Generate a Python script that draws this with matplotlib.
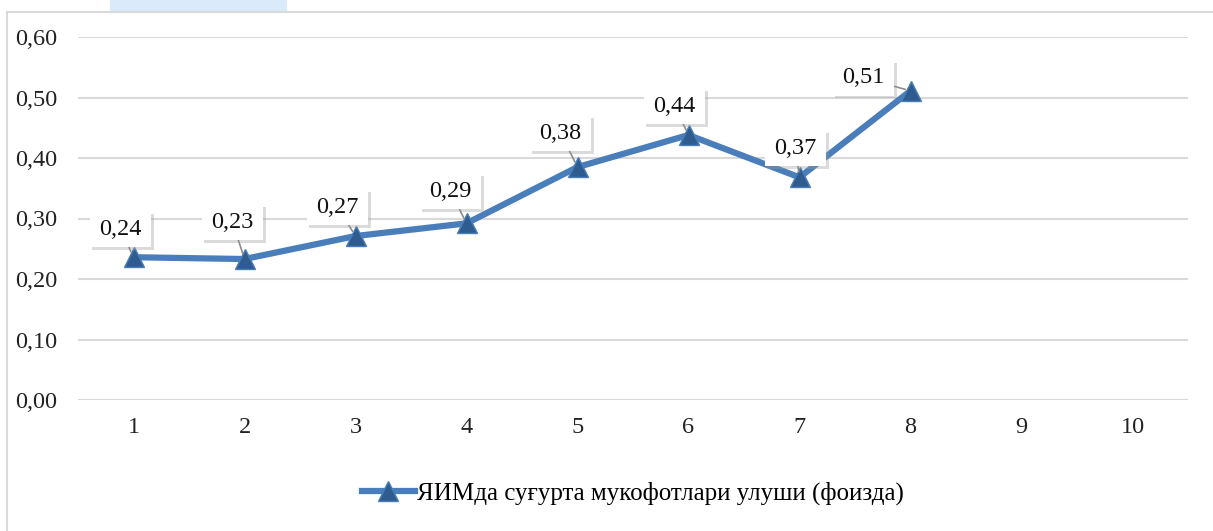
import matplotlib
matplotlib.use('Agg')
import matplotlib.pyplot as plt
import matplotlib.patheffects as pe
from matplotlib.patches import Rectangle
from matplotlib.lines import Line2D
from matplotlib.path import Path

# data
periods = [1, 2, 3, 4, 5, 6, 7, 8]
share = [0.236, 0.233, 0.271, 0.292, 0.385, 0.438, 0.368, 0.511]
value_labels = ['0,24', '0,23', '0,27', '0,29', '0,38', '0,44', '0,37', '0,51']
x_ticks = list(range(1, 11))
y_ticks = [0.0, 0.1, 0.2, 0.3, 0.4, 0.5, 0.6]
series_name = 'ЯИМда суғурта мукофотлари улуши (фоизда)'

# label offsets in pixels (dx, dy)
offsets = [(-13, 28), (-12, 37), (-18, 29), (-16, 32), (-17, 34), (-14, 29), (-4, 29), (-47, 13)]

plt.rcParams['font.family'] = ['Liberation Serif', 'DejaVu Serif']


def label_box(x0, y0, width, height, mutation_size):
    """Rectangular box, wider padding left/right than top/bottom."""
    hp = 0.4 * mutation_size
    vp = 0.3 * mutation_size
    x1, y1 = x0 - hp, y0 - vp
    x2, y2 = x0 + width + hp, y0 + height + vp
    return Path([(x1, y1), (x2, y1), (x2, y2), (x1, y2), (x1, y1)], closed=True)


W, H = 1213, 531
fig = plt.figure(figsize=(W / 100, H / 100), dpi=100)
ax = fig.add_axes([78 / W, 1 - 400 / H, (1188 - 78) / W, (400 - 37) / H])

line_color = '#4a7ebb'
ax.plot(periods, share, color=line_color, linewidth=4.5, marker='^', markersize=14,
        markerfacecolor='#2e5c8e', markeredgecolor='#4a7ebb', markeredgewidth=1, zorder=3)

for x, y, lab, (dx, dy) in zip(periods, share, value_labels, offsets):
    t = ax.annotate(lab, xy=(x, y), xytext=(dx, dy), textcoords='offset pixels',
                    ha='center', va='center', fontsize=17.5, color='#111111',
                    bbox=dict(boxstyle=label_box, fc='white', ec='none'),
                    arrowprops=dict(arrowstyle='-', color='#8c8c8c', lw=1.2,
                                    shrinkA=0, shrinkB=4),
                    zorder=5)
    t.get_bbox_patch().set_path_effects([
        pe.SimplePatchShadow(offset=(2, -2), shadow_rgbFace='#9a9a9a', alpha=0.35),
        pe.Normal()])

ax.set_xlim(0.5, 10.5)
ax.set_ylim(0, 0.6)
ax.set_xticks(x_ticks)
ax.set_xticklabels([str(v) for v in x_ticks])
ax.set_yticks(y_ticks)
ax.set_yticklabels([f'{v:.2f}'.replace('.', ',') for v in y_ticks])
ax.tick_params(axis='both', length=0, labelsize=17.5, colors='#222222')
ax.tick_params(axis='x', pad=12)
ax.tick_params(axis='y', pad=15)
ax.grid(axis='y', color='#d9d9d9', linewidth=1.5)
ax.set_axisbelow(True)
for s in ax.spines.values():
    s.set_visible(False)

# outer frame and header tab
fig.add_artist(Line2D([7 / W, 7 / W], [0, 1 - 12 / H], color='#d9d9d9', lw=1.5,
                      transform=fig.transFigure))
fig.add_artist(Line2D([7 / W, 1], [1 - 12 / H, 1 - 12 / H], color='#d9d9d9', lw=1.5,
                      transform=fig.transFigure))
fig.add_artist(Rectangle((110 / W, 1 - 12 / H), 177 / W, 12 / H, color='#dbeafb',
                         transform=fig.transFigure, lw=0))

handle = Line2D([], [], color=line_color, linewidth=4.5, marker='^', markersize=14,
                markerfacecolor='#2e5c8e', markeredgecolor='#4a7ebb')
fig.legend([handle], [series_name], loc='center', bbox_to_anchor=(633 / W, 1 - 493 / H),
           frameon=False, fontsize=18, handlelength=2.1, handletextpad=0.1)

fig.savefig('out.png', dpi=100)
